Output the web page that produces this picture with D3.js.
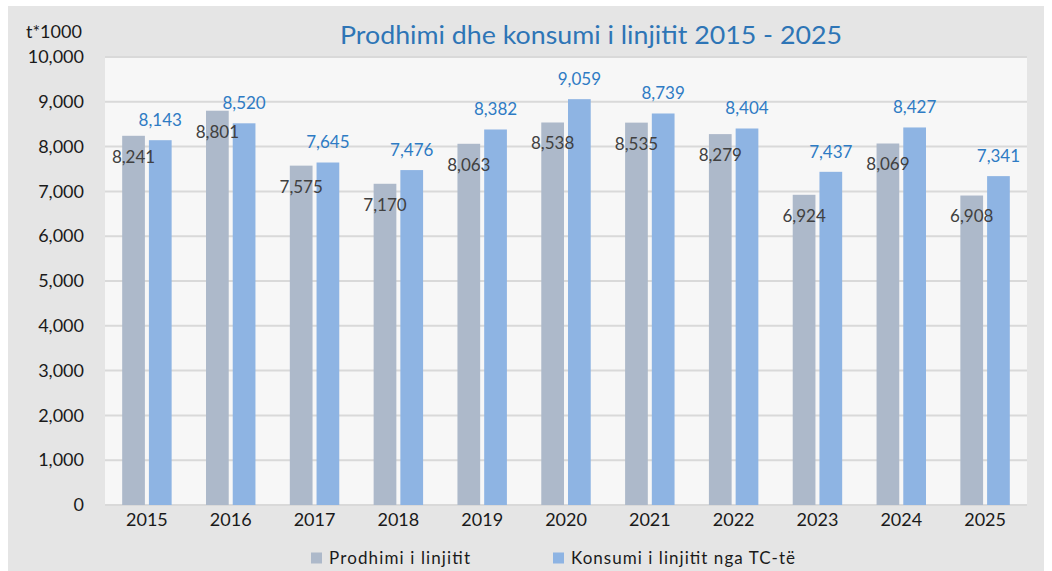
<!DOCTYPE html>
<html><head><meta charset="utf-8">
<script src="https://cdn.jsdelivr.net/npm/d3@7"></script>
<style>body{margin:0;background:#fff;}svg{display:block;font-family:Lato,"Open Sans",sans-serif;}</style>
</head><body>
<svg id="c" width="1052" height="571"></svg>
<script>
const years = ["2015","2016","2017","2018","2019","2020","2021","2022","2023","2024","2025"];
const seriesNames = ["Prodhimi i linjitit","Konsumi i linjitit nga TC-të"];
const production = [8241,8801,7575,7170,8063,8538,8535,8279,6924,8069,6908];
const consumption = [8143,8520,7645,7476,8382,9059,8739,8404,7437,8427,7341];
const yTicks = [0,1000,2000,3000,4000,5000,6000,7000,8000,9000,10000];
const titleText = "Prodhimi dhe konsumi i linjitit 2015 - 2025";
const unitText = "t*1000";

const colors = ["#adb9ca","#8eb4e3"];
const labelColors = ["#404040","#2e7bc4"];

const svg = d3.select("#c");
svg.append("rect").attr("x",8).attr("y",6).attr("width",1036).attr("height",570).attr("fill","#e5e5e5");

const L=105,R=1027,T=57,B=505;
svg.append("rect").attr("x",L).attr("y",T).attr("width",R-L).attr("height",B-T).attr("fill","#f7f7f7");

const y = d3.scaleLinear().domain([0,10000]).range([B,T]);
const x0 = d3.scaleBand().domain(years).range([L,R]).paddingInner(0.41).paddingOuter(0.205);
const x1 = d3.scaleBand().domain(seriesNames).range([0,x0.bandwidth()]).paddingInner(0.15);

// gridlines
svg.append("g").selectAll("line").data(yTicks).join("line")
  .attr("x1",L).attr("x2",R).attr("y1",d=>y(d)).attr("y2",d=>y(d))
  .attr("stroke","#d9d9d9").attr("stroke-width",2);

// y axis labels
const fmt = d3.format(",");
const yAxis = d3.axisLeft(y).tickValues(yTicks).tickFormat(fmt).tickSize(0).tickPadding(0);
const gy = svg.append("g").attr("transform",`translate(84,0)`).call(yAxis);
gy.select(".domain").remove();
gy.selectAll("text").attr("font-size",18).attr("fill","#1a1a1a").attr("font-family","Lato");

// x axis labels
const xAxis = d3.axisBottom(x0).tickSize(0).tickPadding(0);
const gx = svg.append("g").attr("transform",`translate(0,${B+8})`).call(xAxis);
gx.select(".domain").remove();
gx.selectAll("text").attr("font-size",18).attr("fill","#1a1a1a").attr("font-family","Lato");

const data = years.map((yr,i)=>({year:yr, vals:[production[i],consumption[i]]}));
const groups = svg.append("g").selectAll("g").data(data).join("g")
  .attr("transform",d=>`translate(${x0(d.year)},0)`);
groups.selectAll("rect").data(d=>d.vals.map((v,j)=>({v,j,s:seriesNames[j]}))).join("rect")
  .attr("x",d=>x1(d.s)).attr("width",x1.bandwidth())
  .attr("y",d=>y(d.v)).attr("height",d=>B-y(d.v))
  .attr("fill",d=>colors[d.j]);

groups.selectAll("text.lbl").data(d=>d.vals.map((v,j)=>({v,j,s:seriesNames[j]}))).join("text")
  .attr("class","lbl")
  .attr("x",d=>x1(d.s)+x1.bandwidth()/2)
  .attr("y",d=>d.j===0 ? y(d.v)+21 : y(d.v)-20)
  .attr("dy","0.35em")
  .attr("text-anchor","middle")
  .attr("font-size",17)
  .attr("fill",d=>labelColors[d.j])
  .text(d=>fmt(d.v));

// title
svg.append("text").attr("x",591).attr("y",35).attr("dy","0.35em").attr("text-anchor","middle")
  .attr("font-size",25).attr("fill","#2e75b6").attr("textLength",502).attr("lengthAdjust","spacingAndGlyphs")
  .text(titleText);
svg.append("text").attr("x",26).attr("y",32).attr("dy","0.35em")
  .attr("font-size",18).attr("fill","#1a1a1a").text(unitText);

// legend
const legX = [311,553];
const legW = [141,224];
const lg = svg.append("g").selectAll("g").data(seriesNames).join("g")
  .attr("transform",(d,i)=>`translate(${legX[i]},558)`);
lg.append("rect").attr("x",0).attr("y",-5.5).attr("width",11).attr("height",11).attr("fill",(d,i)=>colors[i]);
lg.append("text").attr("x",18).attr("y",0).attr("dy","0.35em").attr("font-size",17).attr("fill","#1a1a1a")
  .attr("textLength",(d,i)=>legW[i]).attr("lengthAdjust","spacing").text(d=>d);
</script>
</body></html>
